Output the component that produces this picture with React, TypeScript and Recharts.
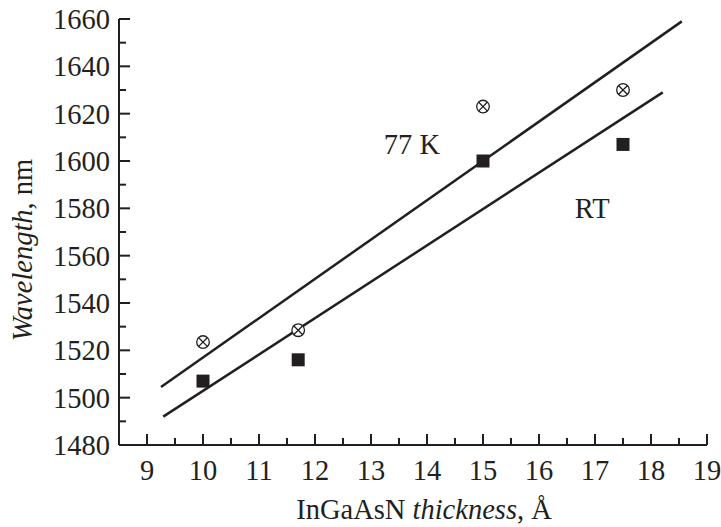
import React from "react";
import { ComposedChart, Scatter, XAxis, YAxis, ReferenceDot } from "recharts";

const thicknessCategories = [10, 11.7, 15, 17.5];
const wavelength77K = [1523.5, 1528.5, 1623, 1630];
const wavelengthRT = [1507, 1516, 1600, 1607];

const fit77KX = [9.25, 18.55];
const fit77KY = [1504.5, 1659];
const fitRTX = [9.29, 18.21];
const fitRTY = [1492, 1629];

const xTicks = [8.5, 9, 9.5, 10, 10.5, 11, 11.5, 12, 12.5, 13, 13.5, 14, 14.5, 15, 15.5, 16, 16.5, 17, 17.5, 18, 18.5, 19];
const yTicks = [1480, 1490, 1500, 1510, 1520, 1530, 1540, 1550, 1560, 1570, 1580, 1590, 1600, 1610, 1620, 1630, 1640, 1650, 1660];

const data77K = thicknessCategories.map((x, i) => ({ x, y: wavelength77K[i] }));
const dataRT = thicknessCategories.map((x, i) => ({ x, y: wavelengthRT[i] }));
const fit77K = fit77KX.map((x, i) => ({ x, y: fit77KY[i] }));
const fitRT = fitRTX.map((x, i) => ({ x, y: fitRTY[i] }));

const INK = "#231f20";
const FONT = "'Liberation Serif', 'Times New Roman', serif";
const FS = 28.5;

const XTick = (props: any) => {
  const { x, y, payload } = props;
  const v = payload.value;
  const major = Math.abs(v - Math.round(v)) < 1e-6;
  return (
    <g>
      <line x1={x} x2={x} y1={y} y2={y - (major ? 11 : 7)} stroke={INK} strokeWidth={2} />
      {major && (
        <text x={x} y={y + 35} textAnchor="middle" fontFamily={FONT} fontSize={FS} fill={INK}>
          {v}
        </text>
      )}
    </g>
  );
};

const YTick = (props: any) => {
  const { x, y, payload } = props;
  const v = payload.value;
  const major = v % 20 === 0;
  return (
    <g>
      <line x1={x} x2={x + (major ? 11 : 7)} y1={y} y2={y} stroke={INK} strokeWidth={2} />
      {major && (
        <text x={x - 9} y={y + 10} textAnchor="end" fontFamily={FONT} fontSize={FS} fill={INK}>
          {v}
        </text>
      )}
    </g>
  );
};

const Square = (props: any) => {
  const { cx, cy } = props;
  return <rect x={cx - 6.5} y={cy - 6.5} width={13} height={13} fill={INK} />;
};

const CrossCircle = (props: any) => {
  const { cx, cy } = props;
  const r = 6.3;
  const d = r * 0.72;
  return (
    <g>
      <circle cx={cx} cy={cy} r={r} fill="#fff" stroke={INK} strokeWidth={1.3} />
      <line x1={cx - d} y1={cy - d} x2={cx + d} y2={cy + d} stroke={INK} strokeWidth={1.3} />
      <line x1={cx - d} y1={cy + d} x2={cx + d} y2={cy - d} stroke={INK} strokeWidth={1.3} />
    </g>
  );
};

const NoShape = () => <g />;

const TextLabel = (text: string) => (props: any) => {
  const { viewBox } = props;
  const cx = viewBox.x + (viewBox.width || 0) / 2;
  const cy = viewBox.y + (viewBox.height || 0) / 2;
  return (
    <text x={cx} y={cy + 10} textAnchor="middle" fontFamily={FONT} fontSize={FS} fill={INK}>
      {text}
    </text>
  );
};

export default function App() {
  return (
    <div style={{ position: "absolute", left: 0, top: 0, width: 721, height: 527, background: "#fff" }}>
      <ComposedChart width={721} height={527} margin={{ top: 19, right: 14, bottom: 0, left: 0 }}>
        <XAxis
          type="number"
          dataKey="x"
          domain={[8.5, 19]}
          ticks={xTicks}
          interval={0}
          tick={<XTick />}
          tickLine={false}
          tickSize={0}
          tickMargin={0}
          height={82}
          axisLine={{ stroke: INK, strokeWidth: 2 }}
          allowDataOverflow
        />
        <YAxis
          type="number"
          dataKey="y"
          domain={[1480, 1660]}
          ticks={yTicks}
          interval={0}
          tick={<YTick />}
          tickLine={false}
          tickSize={0}
          tickMargin={0}
          width={119}
          axisLine={{ stroke: INK, strokeWidth: 2 }}
          allowDataOverflow
        />
        <Scatter data={fit77K} line={{ stroke: INK, strokeWidth: 2.5 }} shape={<NoShape />} isAnimationActive={false} />
        <Scatter data={fitRT} line={{ stroke: INK, strokeWidth: 2.5 }} shape={<NoShape />} isAnimationActive={false} />
        <Scatter data={dataRT} shape={<Square />} isAnimationActive={false} />
        <Scatter data={data77K} shape={<CrossCircle />} isAnimationActive={false} />
        <ReferenceDot x={13.73} y={1607.3} r={0} fill="none" stroke="none" label={TextLabel("77 K")} />
        <ReferenceDot x={16.95} y={1580.3} r={0} fill="none" stroke="none" label={TextLabel("RT")} />
      </ComposedChart>
      <svg width={721} height={527} style={{ position: "absolute", left: 0, top: 0, pointerEvents: "none" }}>
        <text x={424} y={519} textAnchor="middle" fontFamily={FONT} fontSize={FS} fill={INK}>
          InGaAsN <tspan fontStyle="italic">thickness</tspan>, Å
        </text>
        <text
          x={0}
          y={0}
          transform="translate(32 250) rotate(-90)"
          textAnchor="middle"
          fontFamily={FONT}
          fontSize={FS}
          fill={INK}
        >
          <tspan fontStyle="italic">Wavelength</tspan>, nm
        </text>
      </svg>
    </div>
  );
}
